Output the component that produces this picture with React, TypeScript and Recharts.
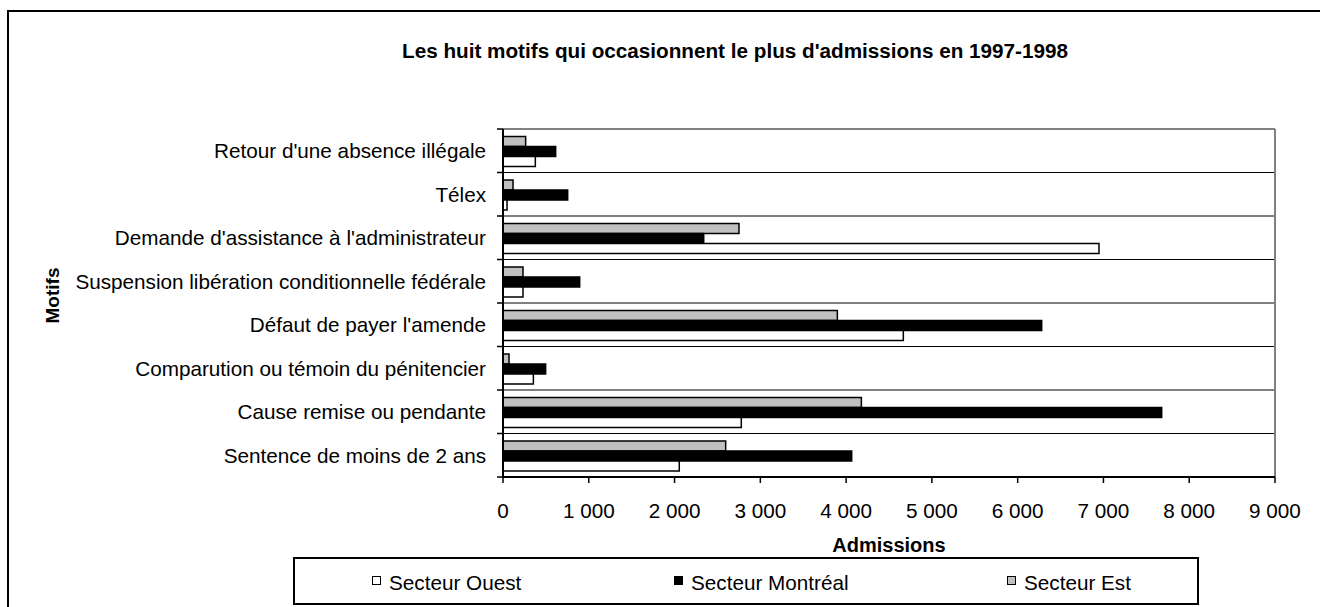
import React from 'react';
import { BarChart, Bar, XAxis, YAxis, CartesianGrid, Legend } from 'recharts';

const categories = [
  "Retour d'une absence illégale",
  'Télex',
  "Demande d'assistance à l'administrateur",
  'Suspension libération conditionnelle fédérale',
  "Défaut de payer l'amende",
  'Comparution ou témoin du pénitencier',
  'Cause remise ou pendante',
  'Sentence de moins de 2 ans',
];
const ouest = [377, 47, 6948, 233, 4667, 354, 2778, 2055];
const montreal = [614, 754, 2340, 894, 6280, 497, 7679, 4065];
const est = [264, 117, 2751, 233, 3898, 70, 4178, 2596];
const xTicks = [0, 1000, 2000, 3000, 4000, 5000, 6000, 7000, 8000, 9000];
const seriesNames = { ouest: 'Secteur Ouest', montreal: 'Secteur Montréal', est: 'Secteur Est' };

const data = categories.map((name, i) => ({ name, ouest: ouest[i], montreal: montreal[i], est: est[i] }));

const FONT = '"Liberation Sans", Arial, sans-serif';
const FS = 20.7;

const fmt = (v: number) => String(v).replace(/\B(?=(\d{3})+(?!\d))/g, ' ');

const YTick = (props: any) => {
  const { x, y, payload, index } = props;
  const half = payload && payload.offset ? payload.offset : 21.75;
  const px = x + 17;
  return (
    <g>
      <text x={x} y={y} dy="0.355em" textAnchor="end" fontFamily={FONT} fontSize={FS} fill="#000">
        {payload.value}
      </text>
      <line x1={px - 6} x2={px} y1={y - half} y2={y - half} stroke="#000" strokeWidth={1.5} />
      {index === categories.length - 1 && (
        <line x1={px - 6} x2={px} y1={y + half} y2={y + half} stroke="#000" strokeWidth={1.5} />
      )}
    </g>
  );
};

const legendItems = [
  { key: 'ouest', fill: '#FFFFFF', left: 77 },
  { key: 'montreal', fill: '#000000', left: 379 },
  { key: 'est', fill: '#C0C0C0', left: 712 },
];

const renderLegend = () => (
  <div
    style={{
      position: 'relative',
      width: 906,
      height: 48,
      boxSizing: 'border-box',
      border: '2px solid #000',
      background: '#fff',
      fontFamily: FONT,
      fontSize: FS,
      color: '#000',
    }}
  >
    {legendItems.map((it) => (
      <div key={it.key} style={{ position: 'absolute', left: it.left, top: 12.7, display: 'flex', alignItems: 'flex-start' }}>
        <div
          style={{
            width: 9,
            height: 9,
            boxSizing: 'border-box',
            border: '1.5px solid #000',
            background: it.fill,
            marginTop: 4.3,
            marginRight: 8,
          }}
        />
        <span style={{ lineHeight: '22px', whiteSpace: 'nowrap' }}>{(seriesNames as any)[it.key]}</span>
      </div>
    ))}
  </div>
);

const gridGen = (p: any) => {
  const off = p.offset;
  const n = categories.length;
  const arr: number[] = [];
  for (let i = 1; i < n; i++) arr.push(off.top + (i * off.height) / n);
  return arr;
};
const borderTopGen = (p: any) => [p.offset.top];
const borderRightGen = (p: any) => [p.offset.left + p.offset.width];

export default function App() {
  return (
    <div style={{ position: 'absolute', left: 0, top: 0, width: 1324, height: 607, background: '#fff', overflow: 'hidden' }}>
      <div
        style={{
          position: 'absolute',
          left: 7,
          top: 10,
          width: 1313,
          height: 597,
          boxSizing: 'border-box',
          borderTop: '2px solid #000',
          borderLeft: '2px solid #000',
        }}
      />
      <div
        style={{
          position: 'absolute',
          left: 335,
          top: 39.5,
          width: 800,
          textAlign: 'center',
          fontFamily: FONT,
          fontWeight: 'bold',
          fontSize: FS,
          lineHeight: '22px',
          color: '#000',
          whiteSpace: 'nowrap',
        }}
      >
        Les huit motifs qui occasionnent le plus d'admissions en 1997-1998
      </div>
      <div style={{ position: 'absolute', left: 0, top: 0 }}>
        <BarChart
          width={1324}
          height={607}
          data={data}
          layout="vertical"
          margin={{ top: 129, right: 49, left: 0, bottom: 2 }}
          barCategoryGap="17%"
          barGap={0}
        >
          <CartesianGrid
            vertical={false}
            horizontal={true}
            stroke="#000"
            strokeWidth={1}
            strokeDasharray=""
            horizontalCoordinatesGenerator={gridGen}
          />
          <CartesianGrid
            vertical={true}
            horizontal={true}
            stroke="#808080"
            strokeWidth={2}
            strokeDasharray=""
            horizontalCoordinatesGenerator={borderTopGen}
            verticalCoordinatesGenerator={borderRightGen}
          />
          <XAxis
            type="number"
            domain={[0, 9000]}
            ticks={xTicks}
            tickFormatter={fmt}
            interval={0}
            height={80}
            tickSize={6}
            tickMargin={20}
            axisLine={{ stroke: '#000', strokeWidth: 2 }}
            tickLine={{ stroke: '#000', strokeWidth: 1.5 }}
            tick={{ fill: '#000', fontSize: FS, fontFamily: FONT }}
            label={{
              content: (p: any) => {
                const vb = p.viewBox;
                return (
                  <text
                    x={vb.x + vb.width / 2}
                    y={vb.y + 75}
                    textAnchor="middle"
                    fontFamily={FONT}
                    fontWeight="bold"
                    fontSize={20}
                    fill="#000"
                  >
                    Admissions
                  </text>
                );
              },
            }}
          />
          <XAxis
            xAxisId="top"
            orientation="top"
            type="number"
            domain={[0, 9000]}
            height={0}
            tick={false}
            tickLine={false}
            axisLine={{ stroke: '#808080', strokeWidth: 2 }}
          />
          <YAxis
            type="category"
            dataKey="name"
            width={503}
            interval={0}
            tickSize={6}
            tickMargin={11}
            tickLine={false}
            axisLine={{ stroke: '#000', strokeWidth: 2 }}
            tick={<YTick />}
            label={{
              content: (p: any) => {
                const vb = p.viewBox;
                const cx = 52;
                const cy = vb.y + vb.height / 2 - 7.5;
                return (
                  <text
                    x={cx}
                    y={cy}
                    transform={`rotate(-90 ${cx} ${cy})`}
                    textAnchor="middle"
                    dy="0.35em"
                    fontFamily={FONT}
                    fontWeight="bold"
                    fontSize={19}
                    fill="#000"
                  >
                    Motifs
                  </text>
                );
              },
            }}
          />
          <YAxis
            yAxisId="right"
            orientation="right"
            type="category"
            dataKey="name"
            width={0}
            tick={false}
            tickLine={false}
            axisLine={{ stroke: '#808080', strokeWidth: 2 }}
          />
          <Legend
            verticalAlign="bottom"
            height={48}
            content={renderLegend}
            wrapperStyle={{ left: 293, width: 906, bottom: 2 }}
          />
          <Bar dataKey="est" name={seriesNames.est} fill="#C0C0C0" stroke="#000" strokeWidth={1.5} isAnimationActive={false} />
          <Bar dataKey="montreal" name={seriesNames.montreal} fill="#000000" stroke="#000" strokeWidth={1.5} isAnimationActive={false} />
          <Bar dataKey="ouest" name={seriesNames.ouest} fill="#FFFFFF" stroke="#000" strokeWidth={1.5} isAnimationActive={false} />
        </BarChart>
      </div>
    </div>
  );
}
